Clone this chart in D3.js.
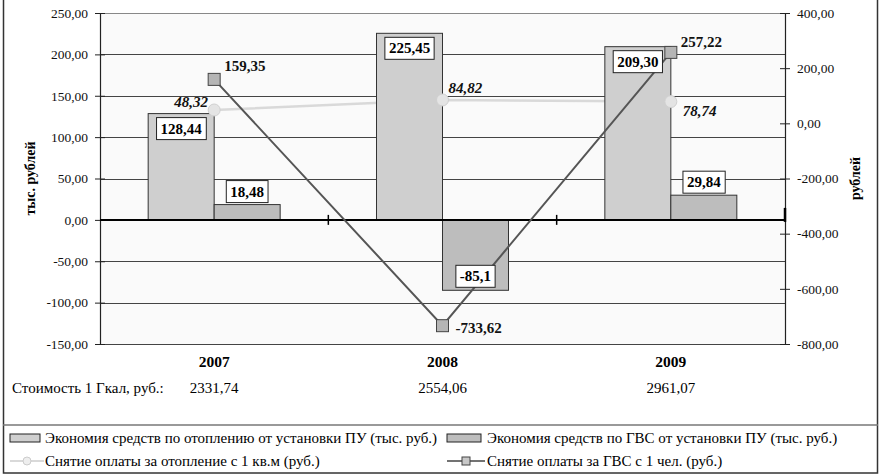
<!DOCTYPE html>
<html lang="ru">
<head>
<meta charset="UTF-8">
<title>chart</title>
<style>
  body { margin: 0; background: #fff; }
  svg text { font-family: "Liberation Serif", "Times New Roman", serif !important; }
</style>
</head>
<body>
<script src="https://cdn.jsdelivr.net/npm/d3@7"></script>
<script>
// data
const years = ['2007', '2008', '2009'];
const heatSaving = [128.44, 225.45, 209.30];
const hotWaterSaving = [18.48, -85.1, 29.84];
const heatPerM2 = [48.32, 84.82, 78.74];
const hotWaterPerPerson = [159.35, -733.62, 257.22];
const costGcal = ['2331,74', '2554,06', '2961,07'];
const leftTicks = [250, 200, 150, 100, 50, 0, -50, -100, -150];
const rightTicks = [400, 200, 0, -200, -400, -600, -800];
const legendNames = [
  'Экономия средств по отоплению от установки ПУ (тыс. руб.)',
  'Экономия средств по ГВС от установки ПУ (тыс. руб.)',
  'Снятие оплаты за отопление с 1 кв.м (руб.)',
  'Снятие оплаты за ГВС с 1 чел. (руб.)'
];
const barLabels1 = ['128,44', '225,45', '209,30'];
const barLabels2 = ['18,48', '-85,1', '29,84'];
const lineLabels1 = ['48,32', '84,82', '78,74'];
const lineLabels2 = ['159,35', '-733,62', '257,22'];

const W = 881, H = 476;
const pLeft = 100, pRight = 785, pTop = 13, pBottom = 344;
const heatColor = '#cfcfcf', waterColor = '#bdbdbd';
const serif = '"Liberation Serif", "Times New Roman", serif';

const svg = d3.select('body').append('svg')
  .attr('width', W).attr('height', H)
  .attr('font-family', serif);

// outer frame
svg.append('rect').attr('x', 3.5).attr('y', -2).attr('width', 874).attr('height', 475)
  .attr('fill', 'none').attr('stroke', '#333').attr('stroke-width', 1.5);

const x = d3.scaleBand().domain(years).range([pLeft, pRight]);
const xs = d3.scaleBand().domain([0, 1]).range([0, x.bandwidth()]).paddingOuter(0.73).paddingInner(0);
const yL = d3.scaleLinear().domain([-150, 250]).range([pBottom, pTop]);
const yR = d3.scaleLinear().domain([-800, 400]).range([pBottom, pTop]);
const fmt = d => d3.format('.2f')(d).replace('.', ',').replace('−', '-');
const cx = d => x(d) + x.bandwidth() / 2;

// plot background
svg.append('rect').attr('x', pLeft).attr('y', pTop).attr('width', pRight - pLeft).attr('height', pBottom - pTop)
  .attr('fill', '#fafafa');

// gridlines
svg.selectAll('.grid').data(leftTicks).enter().append('line')
  .attr('x1', pLeft).attr('x2', pRight)
  .attr('y1', d => Math.round(yL(d)) + 0.5).attr('y2', d => Math.round(yL(d)) + 0.5)
  .attr('stroke', d => d === 250 ? '#888' : '#444').attr('stroke-width', 1);

// left axis
const gL = svg.append('g').attr('transform', `translate(${pLeft},0)`)
  .call(d3.axisLeft(yL).tickValues(leftTicks).tickSize(5).tickFormat(fmt))
  .attr('font-family', serif);
gL.select('.domain').attr('stroke', '#222').attr('stroke-width', 1.2);
gL.selectAll('.tick line').attr('x1', -5).attr('x2', 5).attr('stroke', '#222');
gL.selectAll('.tick text').attr('x', -12).attr('font-size', 13.5).attr('fill', '#111');

// right axis
const gR = svg.append('g').attr('transform', `translate(${pRight},0)`)
  .call(d3.axisRight(yR).tickValues(rightTicks).tickSize(5).tickFormat(fmt))
  .attr('font-family', serif);
gR.select('.domain').attr('stroke', '#222').attr('stroke-width', 1.2);
gR.selectAll('.tick line').attr('x1', -5).attr('x2', 5).attr('stroke', '#222');
gR.selectAll('.tick text').attr('x', 12).attr('font-size', 13.5).attr('fill', '#111');

// light line sits behind the bars
const line1 = d3.line().x((d, i) => cx(years[i])).y(d => yR(d));
svg.append('path').attr('d', line1(heatPerM2)).attr('fill', 'none')
  .attr('stroke', '#d9d9d9').attr('stroke-width', 2.5);

// bars
const bars = svg.append('g');
years.forEach((yr, i) => {
  const v1 = heatSaving[i], v2 = hotWaterSaving[i];
  bars.append('rect')
    .attr('x', x(yr) + xs(0)).attr('width', xs.bandwidth())
    .attr('y', yL(Math.max(0, v1))).attr('height', Math.abs(yL(v1) - yL(0)))
    .attr('fill', heatColor).attr('stroke', '#333').attr('stroke-width', 1);
  bars.append('rect')
    .attr('x', x(yr) + xs(1)).attr('width', xs.bandwidth())
    .attr('y', yL(Math.max(0, v2))).attr('height', Math.abs(yL(v2) - yL(0)))
    .attr('fill', waterColor).attr('stroke', '#333').attr('stroke-width', 1);
});

// zero line and category ticks
svg.append('line').attr('x1', pLeft).attr('x2', pRight).attr('y1', yL(0)).attr('y2', yL(0))
  .attr('stroke', '#000').attr('stroke-width', 2);
svg.selectAll('.ctick').data(years.slice(1)).enter().append('line')
  .attr('x1', d => x(d)).attr('x2', d => x(d))
  .attr('y1', yL(0) - 5).attr('y2', yL(0) + 5)
  .attr('stroke', '#000').attr('stroke-width', 1.5);
svg.append('line').attr('x1', pRight).attr('x2', pRight).attr('y1', yL(0) - 12).attr('y2', yL(0) + 2)
  .attr('stroke', '#000').attr('stroke-width', 2.5);

// dark line
svg.append('path').attr('d', line1(hotWaterPerPerson)).attr('fill', 'none')
  .attr('stroke', '#555').attr('stroke-width', 2);

svg.selectAll('.c1').data(heatPerM2).enter().append('circle')
  .attr('cx', (d, i) => cx(years[i])).attr('cy', d => yR(d)).attr('r', 6)
  .attr('fill', '#e4e4e4').attr('stroke', '#d0d0d0');
svg.selectAll('.s1').data(hotWaterPerPerson).enter().append('rect')
  .attr('x', (d, i) => cx(years[i]) - 6).attr('y', d => yR(d) - 6)
  .attr('width', 12).attr('height', 12)
  .attr('fill', '#b5b5b5').attr('stroke', '#444').attr('stroke-width', 1);

// boxed bar labels
function boxLabel(txt, xc, yc) {
  const g = svg.append('g');
  const t = g.append('text').attr('x', xc).attr('y', yc + 5).attr('text-anchor', 'middle')
    .attr('font-size', 15).attr('font-weight', 'bold').attr('fill', '#000').text(txt);
  const b = t.node().getBBox();
  g.insert('rect', 'text').attr('x', b.x - 4).attr('y', yc - 11).attr('width', b.width + 8).attr('height', 22)
    .attr('fill', '#fff').attr('stroke', '#222').attr('stroke-width', 1);
}
years.forEach((yr, i) => {
  const bx1 = x(yr) + xs(0) + xs.bandwidth() / 2;
  const bx2 = x(yr) + xs(1) + xs.bandwidth() / 2;
  boxLabel(barLabels1[i], bx1, yL(heatSaving[i]) + 15);
  const v2 = hotWaterSaving[i];
  boxLabel(barLabels2[i], bx2, v2 >= 0 ? yL(v2) - 13 : yL(v2) - 14);
});

// line labels
const l1dx = [-40, 6, 12], l1dy = [-3, -7, 14];
heatPerM2.forEach((v, i) => {
  svg.append('text').attr('x', cx(years[i]) + l1dx[i]).attr('y', yR(v) + l1dy[i])
    .attr('font-size', 15).attr('font-weight', 'bold').attr('font-style', 'italic')
    .attr('fill', '#111').text(lineLabels1[i]);
});
const l2dx = [10, 13, 10], l2dy = [-8, 7, -5];
hotWaterPerPerson.forEach((v, i) => {
  svg.append('text').attr('x', cx(years[i]) + l2dx[i]).attr('y', yR(v) + l2dy[i])
    .attr('font-size', 15).attr('font-weight', 'bold')
    .attr('fill', '#111').text(lineLabels2[i]);
});

// axis titles
svg.append('text').attr('transform', `translate(35,${(pTop + pBottom) / 2}) rotate(-90)`)
  .attr('text-anchor', 'middle').attr('font-size', 14).attr('font-weight', 'bold').text('тыс. рублей');
svg.append('text').attr('transform', `translate(860,${(pTop + pBottom) / 2}) rotate(-90)`)
  .attr('text-anchor', 'middle').attr('font-size', 14).attr('font-weight', 'bold').text('рублей');

// category labels and cost row
svg.selectAll('.cat').data(years).enter().append('text')
  .attr('x', d => cx(d)).attr('y', 367).attr('text-anchor', 'middle')
  .attr('font-size', 15.5).attr('font-weight', 'bold').text(d => d);
svg.append('text').attr('x', 12).attr('y', 393).attr('font-size', 15).text('Стоимость 1 Гкал, руб.:');
svg.selectAll('.cost').data(costGcal).enter().append('text')
  .attr('x', (d, i) => cx(years[i])).attr('y', 393).attr('text-anchor', 'middle')
  .attr('font-size', 15).text(d => d);

// legend
svg.append('line').attr('x1', 3).attr('x2', 878).attr('y1', 425).attr('y2', 425)
  .attr('stroke', '#777').attr('stroke-width', 1.5);
const lg = svg.append('g');
const legPos = [[10, 438], [447, 438], [10, 461], [447, 461]];
// bar swatches
lg.append('rect').attr('x', legPos[0][0]).attr('y', legPos[0][1] - 4).attr('width', 30).attr('height', 8)
  .attr('fill', heatColor).attr('stroke', '#222');
lg.append('rect').attr('x', legPos[1][0]).attr('y', legPos[1][1] - 4).attr('width', 34).attr('height', 8)
  .attr('fill', waterColor).attr('stroke', '#222');
// line swatches
lg.append('line').attr('x1', legPos[2][0]).attr('x2', legPos[2][0] + 34).attr('y1', legPos[2][1]).attr('y2', legPos[2][1])
  .attr('stroke', '#d9d9d9').attr('stroke-width', 2);
lg.append('circle').attr('cx', legPos[2][0] + 17).attr('cy', legPos[2][1]).attr('r', 4)
  .attr('fill', '#eee').attr('stroke', '#ccc');
lg.append('line').attr('x1', legPos[3][0]).attr('x2', legPos[3][0] + 38).attr('y1', legPos[3][1]).attr('y2', legPos[3][1])
  .attr('stroke', '#444').attr('stroke-width', 1.5);
lg.append('rect').attr('x', legPos[3][0] + 15).attr('y', legPos[3][1] - 4).attr('width', 8).attr('height', 8)
  .attr('fill', '#c8c8c8').attr('stroke', '#444');
const textX = [45, 487, 45, 487];
legendNames.forEach((n, i) => {
  lg.append('text').attr('x', textX[i]).attr('y', legPos[i][1] + 5).attr('font-size', 15).text(n);
});
</script>
</body>
</html>
